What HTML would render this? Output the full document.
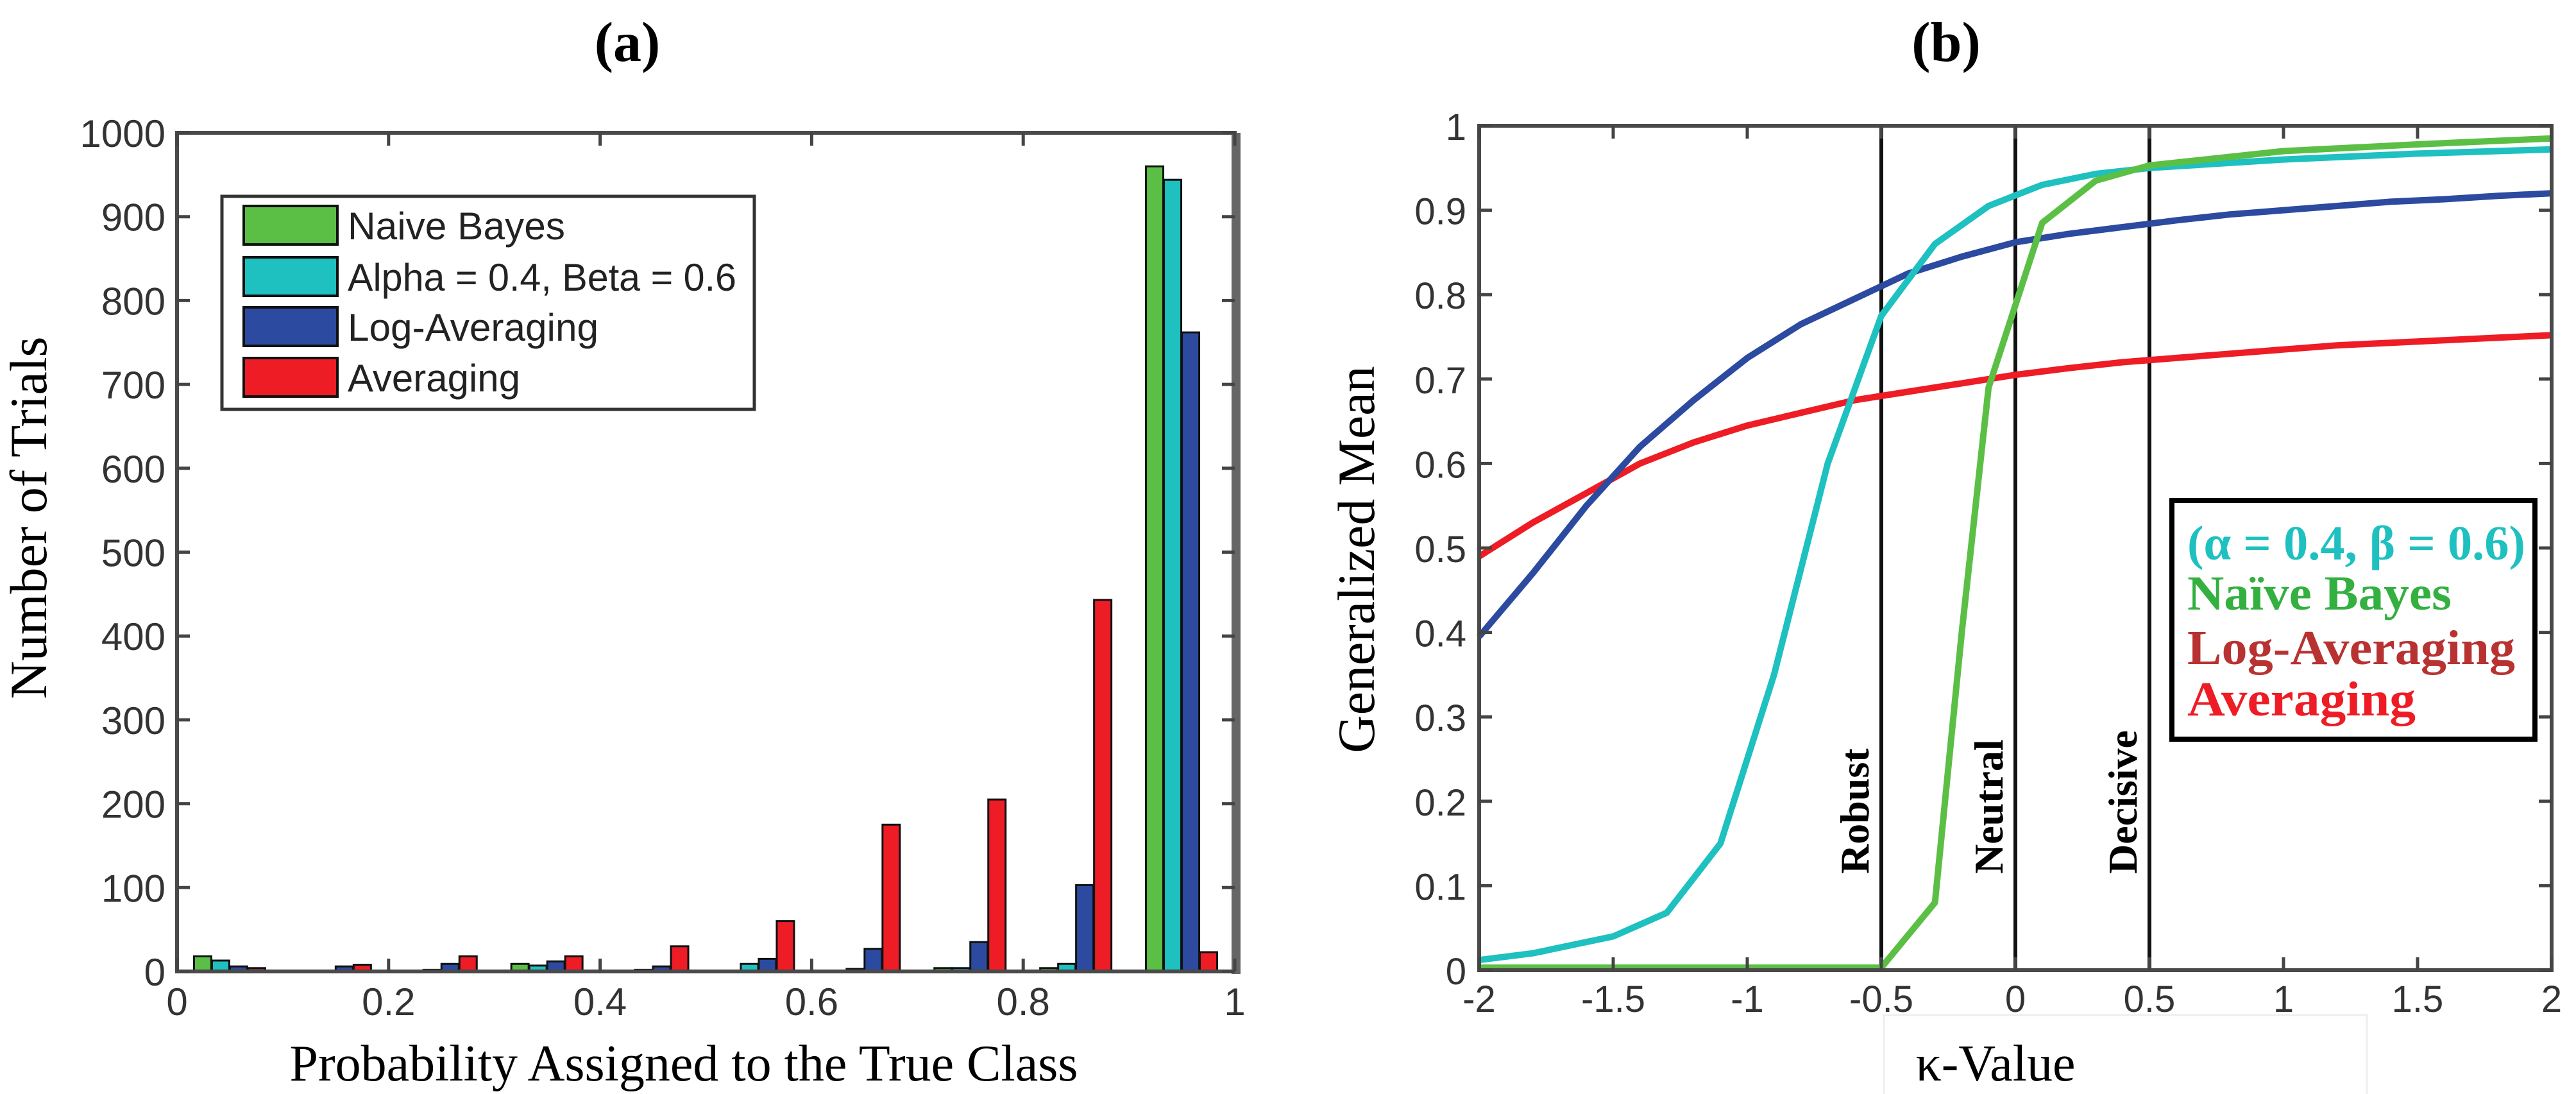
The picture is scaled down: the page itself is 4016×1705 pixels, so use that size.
<!DOCTYPE html>
<html><head><meta charset="utf-8"><style>
html,body{margin:0;padding:0;background:#fff;width:4016px;height:1705px;overflow:hidden}
svg{display:block}
</style></head><body>
<svg id="fig" width="4016" height="1705" viewBox="0 0 4016 1705" xmlns="http://www.w3.org/2000/svg"></svg>
<script>
// ---- chart (a) data ----
const binCenters = [0.05,0.15,0.25,0.35,0.45,0.55,0.65,0.75,0.85,0.95];
const naiveBayes = [18,1,0,9,0,0,1,4,4,960];
const alphaBeta  = [13,1,2,7,2,9,3,4,9,944];
const logAvg     = [6,6,9,12,6,15,27,35,103,762];
const averaging  = [4,8,18,18,30,60,175,205,443,23];
const aXTicks = [0,0.2,0.4,0.6,0.8,1];
const aXTickLabels = ["0","0.2","0.4","0.6","0.8","1"];
const aYTicks = [0,100,200,300,400,500,600,700,800,900,1000];
// ---- chart (b) data ----
const blueX = [-2,-1.8,-1.6,-1.4,-1.2,-1,-0.8,-0.6,-0.4,-0.2,0,0.2,0.4,0.6,0.8,1,1.2,1.4,1.6,1.8,2];
const blueY = [0.395,0.47,0.55,0.62,0.675,0.725,0.765,0.795,0.825,0.845,0.862,0.872,0.88,0.888,0.895,0.9,0.905,0.91,0.913,0.917,0.92];
const redX = [-2,-1.8,-1.6,-1.4,-1.2,-1,-0.8,-0.6,-0.4,-0.2,0,0.2,0.4,0.6,0.8,1,1.2,1.4,1.6,1.8,2];
const redY = [0.49,0.53,0.565,0.6,0.625,0.645,0.66,0.675,0.685,0.695,0.705,0.713,0.72,0.725,0.73,0.735,0.74,0.743,0.746,0.749,0.752];
const cyanX = [-2,-1.8,-1.5,-1.3,-1.1,-0.9,-0.7,-0.5,-0.3,-0.1,0.1,0.3,0.5,1,1.5,2];
const cyanY = [0.012,0.02,0.04,0.068,0.15,0.35,0.6,0.775,0.86,0.905,0.93,0.943,0.95,0.96,0.967,0.972];
const greenX = [-2,-0.5,-0.3,-0.2,-0.1,0.1,0.3,0.5,1,1.5,2];
const greenY = [0.003,0.003,0.08,0.4,0.69,0.885,0.935,0.953,0.97,0.978,0.985];
const bXTicks = [-2,-1.5,-1,-0.5,0,0.5,1,1.5,2];
const bXTickLabels = ["-2","-1.5","-1","-0.5","0","0.5","1","1.5","2"];
const bYTicks = [0,0.1,0.2,0.3,0.4,0.5,0.6,0.7,0.8,0.9,1];
const bYTickLabels = ["0","0.1","0.2","0.3","0.4","0.5","0.6","0.7","0.8","0.9","1"];
const markers = [-0.5,0,0.5];
const markerLabels = ["Robust","Neutral","Decisive"];

const NS="http://www.w3.org/2000/svg";
const svg=document.getElementById('fig');
function mk(tag,attrs,parent,text){const e=document.createElementNS(NS,tag);for(const k in attrs)e.setAttribute(k,attrs[k]);if(text!==undefined)e.textContent=text;(parent||svg).appendChild(e);return e;}

const SANS='"Liberation Sans", sans-serif', SERIF='"Liberation Serif", serif';
const GREEN='#5cbf45', CYAN='#1ec0c0', BLUE='#2b4aa0', RED='#ee1c24';

// ===== Chart (a) =====
const aL=276,aR=1925,aT=207,aB=1514;
const ax=v=>aL+v*(aR-aL);
const ay=v=>aB-v/1000*(aB-aT);
let t=mk('text',{x:978,y:95,'font-family':SERIF,'font-size':88,'font-weight':'bold','text-anchor':'middle'},svg,'(a)');


const gA=mk('g',{});


const series=[naiveBayes,alphaBeta,logAvg,averaging], cols=[GREEN,CYAN,BLUE,RED], names=['naive-bayes','alpha-beta','log-averaging','averaging'];
const bw=27, gap=1;
binCenters.forEach((c,i)=>{
  series.forEach((s,j)=>{
    const x=ax(c)-2*(bw+gap)+j*(bw+gap);
    const r=mk('rect',{x:x,y:ay(s[i]),width:bw,height:Math.max(0,aB-ay(s[i])),fill:cols[j],stroke:'#111',"stroke-width":3},gA);
    
    
  });
});
let ab=mk('rect',{x:aL,y:aT,width:aR-aL,height:aB-aT,fill:'none',stroke:'#4a4a4a','stroke-width':6},gA);


mk('line',{x1:aR+2,y1:aT,x2:aR+2,y2:aB+4,stroke:'#666','stroke-width':14},gA);
aYTicks.forEach(v=>{
  mk('line',{x1:aL,y1:ay(v),x2:aL+20,y2:ay(v),stroke:'#444','stroke-width':5},gA);
  mk('line',{x1:aR-20,y1:ay(v),x2:aR,y2:ay(v),stroke:'#444','stroke-width':5},gA);
  const l=mk('text',{x:258,y:ay(v)+22,'font-family':SANS,'font-size':60,'text-anchor':'end',fill:'#333'},gA,String(v));
  
  
});
aXTicks.forEach((v,i)=>{
  mk('line',{x1:ax(v),y1:aB,x2:ax(v),y2:aB-20,stroke:'#444','stroke-width':5},gA);
  mk('line',{x1:ax(v),y1:aT,x2:ax(v),y2:aT+20,stroke:'#444','stroke-width':5},gA);
  const l=mk('text',{x:ax(v),y:1582,'font-family':SANS,'font-size':60,'text-anchor':'middle',fill:'#333'},gA,aXTickLabels[i]);
  
  
});
t=mk('text',{x:1066,y:1684,'font-family':SERIF,'font-size':80,'text-anchor':'middle'},svg,'Probability Assigned to the True Class');


t=mk('text',{x:0,y:0,'font-family':SERIF,'font-size':82,'text-anchor':'middle',transform:'translate(72,807) rotate(-90)'},svg,'Number of Trials');


const lgA=mk('g',{});


mk('rect',{x:346,y:306,width:830,height:332,fill:'#fff',stroke:'#333','stroke-width':5},lgA);
const legTexts=['Naive Bayes','Alpha = 0.4, Beta = 0.6','Log-Averaging','Averaging'];
const legW=[339,606,391,269];
const rowsY=[351,431,509,588];
legTexts.forEach((s,i)=>{
  const g=mk('g',{},lgA);
  
  
  mk('rect',{x:380,y:rowsY[i]-30,width:146,height:60,fill:cols[i],stroke:'#111','stroke-width':4},g);
  mk('text',{x:542,y:rowsY[i]+22,'font-family':SANS,'font-size':60,fill:'#222',textLength:legW[i],lengthAdjust:'spacingAndGlyphs'},g,s);
});

// ===== Chart (b) =====
const bL=2306,bR=3978,bT=196,bB=1512;
const bx=v=>bL+(v+2)/4*(bR-bL);
const by=v=>bB-v*(bB-bT);
t=mk('text',{x:3034,y:95,'font-family':SERIF,'font-size':88,'font-weight':'bold','text-anchor':'middle'},svg,'(b)');


const gB=mk('g',{});


markers.forEach((m,i)=>{
  const l=mk('line',{x1:bx(m),y1:bT,x2:bx(m),y2:bB,stroke:'#111','stroke-width':6},gB);
  
  
  const tx=mk('text',{x:0,y:0,'font-family':SERIF,'font-size':64,'font-weight':'bold','text-anchor':'start',transform:`translate(${bx(m)-20},1362) rotate(-90)`},gB,markerLabels[i]);
  
  
});
function curve(xs,ys,col,name){
  const d=xs.map((x,i)=>(i?'L':'M')+bx(x).toFixed(1)+' '+by(ys[i]).toFixed(1)).join(' ');
  const p=mk('path',{d:d,fill:'none',stroke:col,'stroke-width':10,'stroke-linejoin':'round'},gB);
  
  
}
curve(redX,redY,RED,'line-averaging');
curve(blueX,blueY,BLUE,'line-log-averaging');
curve(cyanX,cyanY,CYAN,'line-alpha-beta');
curve(greenX,greenY,GREEN,'line-naive-bayes');
let bb=mk('rect',{x:bL,y:bT,width:bR-bL,height:bB-bT,fill:'none',stroke:'#4a4a4a','stroke-width':6},gB);


bYTicks.forEach((v,i)=>{
  mk('line',{x1:bL,y1:by(v),x2:bL+20,y2:by(v),stroke:'#444','stroke-width':5},gB);
  mk('line',{x1:bR-20,y1:by(v),x2:bR,y2:by(v),stroke:'#444','stroke-width':5},gB);
  const l=mk('text',{x:2286,y:by(v)+22,'font-family':SANS,'font-size':58,'text-anchor':'end',fill:'#333'},gB,bYTickLabels[i]);
  
  
});
bXTicks.forEach((v,i)=>{
  mk('line',{x1:bx(v),y1:bB,x2:bx(v),y2:bB-20,stroke:'#444','stroke-width':5},gB);
  mk('line',{x1:bx(v),y1:bT,x2:bx(v),y2:bT+20,stroke:'#444','stroke-width':5},gB);
  const l=mk('text',{x:bx(v),y:1577,'font-family':SANS,'font-size':58,'text-anchor':'middle',fill:'#333'},gB,bXTickLabels[i]);
  
  
});
mk('path',{d:'M2937 1705 V1582 H3690 V1705',fill:'none',stroke:'#eee','stroke-width':3},svg);
t=mk('text',{x:3111,y:1684,'font-family':SERIF,'font-size':80,'text-anchor':'middle'},svg,'κ-Value');


t=mk('text',{x:0,y:0,'font-family':SERIF,'font-size':82,'text-anchor':'middle',transform:'translate(2142,872) rotate(-90)'},svg,'Generalized Mean');


const lgB=mk('g',{});


mk('rect',{x:3386,y:780,width:566,height:372,fill:'#fff',stroke:'#000','stroke-width':8},lgB);
const lbTexts=['(α = 0.4, β = 0.6)','Naïve Bayes','Log-Averaging','Averaging'];
const lbCols=[CYAN,'#33b040','#b83232',RED];
const lbY=[872,950,1035,1115];
const lbW=[527,412,511,356];
const lbNames=['alpha-beta','naive-bayes','log-averaging','averaging'];
lbTexts.forEach((s,i)=>{
  const e=mk('text',{x:3410,y:lbY[i],'font-family':SERIF,'font-size':76,'font-weight':'bold',fill:lbCols[i],textLength:lbW[i],lengthAdjust:'spacingAndGlyphs'},lgB,s);
  
  
});
</script>
</body></html>
